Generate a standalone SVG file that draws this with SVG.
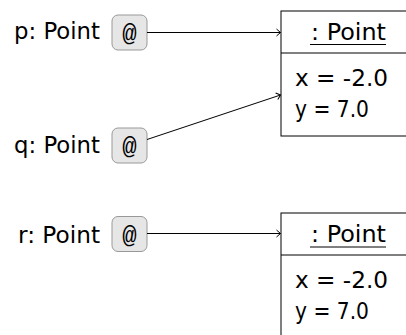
<svg xmlns="http://www.w3.org/2000/svg" width="406" height="335" viewBox="0 0 406 335">
<style>
.lbl{font-family:"DejaVu Sans","Liberation Sans",sans-serif;font-size:22.5px;fill:#000}
.at{font-family:"Liberation Mono","DejaVu Sans Mono",monospace;font-size:24px;fill:#000;text-anchor:middle}
.ptr{fill:#e6e6e6;stroke:#999;stroke-width:1}
.obj{fill:#fff;stroke:#000;stroke-width:1}
.con{stroke:#000;stroke-width:1;fill:none;marker-end:url(#ah)}
</style>
<defs>
<marker id="ah" viewBox="-6 -5 8 10" markerWidth="8" markerHeight="10" refX="0" refY="0" orient="auto" markerUnits="userSpaceOnUse">
<path d="M-4,-3.5 Q-1,-0.8 0,0 Q-1,0.8 -4,3.5" fill="none" stroke="#000" stroke-width="1"/>
</marker>
</defs>
<rect width="406" height="335" fill="#fff"/>
<g id="p">
<text class="lbl" x="14" y="38.5" textLength="86" lengthAdjust="spacingAndGlyphs">p: Point</text>
<rect class="ptr" x="112" y="15" width="35" height="35" rx="6"/>
<text class="at" x="129.5" y="41">@</text>
</g>
<g id="q">
<text class="lbl" x="14" y="153" textLength="86" lengthAdjust="spacingAndGlyphs">q: Point</text>
<rect class="ptr" x="112" y="128" width="35" height="35" rx="6"/>
<text class="at" x="129.5" y="154">@</text>
</g>
<g id="r">
<text class="lbl" x="18" y="243" textLength="82" lengthAdjust="spacingAndGlyphs">r: Point</text>
<rect class="ptr" x="112" y="216.5" width="35" height="35" rx="6"/>
<text class="at" x="129.5" y="242.5">@</text>
</g>
<g id="obj1">
<rect class="obj" x="281" y="11" width="140" height="125"/>
<line x1="281" y1="53" x2="421" y2="53" stroke="#000"/>
<text class="lbl" x="311" y="39.5" textLength="75" lengthAdjust="spacingAndGlyphs">: Point</text>
<line x1="310" y1="44.5" x2="386" y2="44.5" stroke="#000"/>
<text class="lbl" x="295" y="86" textLength="93" lengthAdjust="spacingAndGlyphs">x = -2.0</text>
<text class="lbl" x="295" y="117" textLength="74" lengthAdjust="spacingAndGlyphs">y = 7.0</text>
</g>
<g id="obj2">
<rect class="obj" x="281" y="213" width="140" height="140"/>
<line x1="281" y1="255" x2="421" y2="255" stroke="#000"/>
<text class="lbl" x="311" y="242" textLength="75" lengthAdjust="spacingAndGlyphs">: Point</text>
<line x1="310" y1="247" x2="386" y2="247" stroke="#000"/>
<text class="lbl" x="295" y="288" textLength="93" lengthAdjust="spacingAndGlyphs">x = -2.0</text>
<text class="lbl" x="295" y="319" textLength="74" lengthAdjust="spacingAndGlyphs">y = 7.0</text>
</g>
<g id="connectors">
<line class="con" x1="147" y1="32.5" x2="280.5" y2="32.5"/>
<line class="con" x1="147" y1="139.5" x2="280.5" y2="95"/>
<line class="con" x1="147" y1="233.5" x2="280.5" y2="233.5"/>
</g>
</svg>
